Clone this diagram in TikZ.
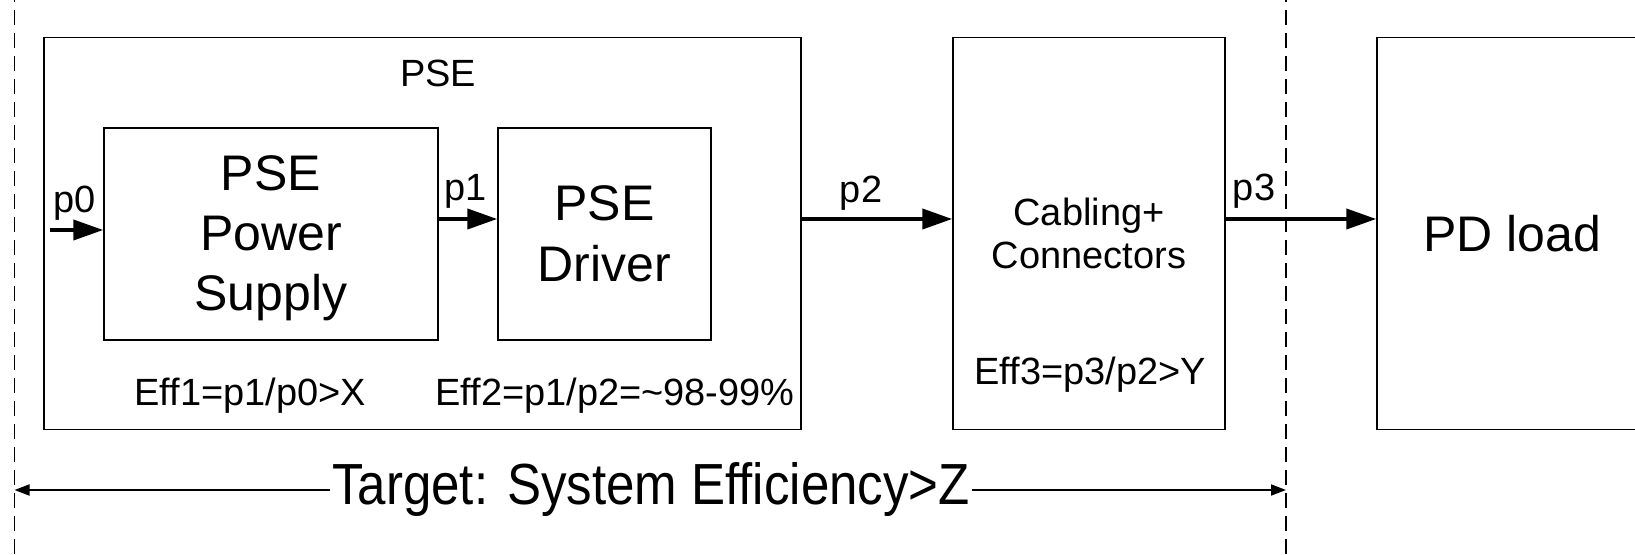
\documentclass[tikz,border=0pt]{standalone}
\usepackage{fontspec}
\setmainfont{Liberation Sans}
\usetikzlibrary{arrows.meta}
\tikzset{
  blk/.style={draw,line width=0.85pt,inner sep=0pt},
  big/.style={font=\fontsize{28.45}{34.1}\selectfont,align=center},
  mid/.style={font=\fontsize{21.6}{24.5}\selectfont,align=center},
  pwr/.style={line width=2.3pt,-{Triangle[length=0.6cm,width=0.4cm]}},
  span/.style={line width=1.1pt,-{Triangle[length=0.3cm,width=0.22cm]}},
  bound/.style={line width=0.6pt,dash pattern=on 0.3cm off 0.16cm}
}
\begin{document}
\begin{tikzpicture}
\useasboundingbox (0,0) rectangle (32.7,11.08);
\clip (0,0) rectangle (32.7,11.08);
\draw[bound] (0.29,0) -- (0.29,11.08);
\draw[bound] (25.72,0) -- (25.72,11.08);

\node[blk,minimum width=15.14cm,minimum height=7.84cm] (pse) at (8.45,6.41) {};
\node[mid] (psetitle) at (8.76,9.62) {PSE};
\node[blk,big,minimum width=6.68cm,minimum height=4.24cm] (ps) at (5.42,6.40) {\rule{0pt}{25pt}PSE\\Power\\Supply};
\node[blk,big,minimum width=4.26cm,minimum height=4.24cm,font=\fontsize{28.45}{35}\selectfont] (drv) at (12.09,6.40) {PSE\\Driver};
\node[mid] (eff1) at (5.0,3.16) {Eff1=p1/p0>X};
\node[mid] (eff2) at (12.3,3.16) {Eff2=p1/p2=\char`\~98-99\%};

\node[blk,mid,minimum width=5.44cm,minimum height=7.84cm] (cab) at (21.78,6.41) {Cabling+\\Connectors};
\node[mid] (eff3) at (21.8,3.58) {Eff3=p3/p2>Y};

\node[blk,big,minimum width=5.4cm,minimum height=7.84cm] (pd) at (30.24,6.41) {PD load};

\coordinate (src) at (1.0,6.48);
\coordinate (lvl) at (0,6.70);
\draw[pwr] (src) -- (src -| ps.west);
\draw[pwr] (ps.east |- lvl) -- (drv.west |- lvl);
\draw[pwr] (pse.east |- lvl) -- (cab.west |- lvl);
\draw[pwr] (cab.east |- lvl) -- (pd.west |- lvl);
\node[mid] (lp0) at (1.5,7.02) {p0};
\node[mid] (lp1) at (9.32,7.26) {p1};
\node[mid] (lp2) at (17.22,7.22) {p2};
\node[mid] (lp3) at (25.08,7.26) {p3};

\node[font=\fontsize{33}{38}\selectfont,inner sep=1pt] (tgt) at (13.02,1.28) {\scalebox{0.88}[1]{Target: System Efficiency>Z}};
\coordinate (tl) at (0.29,1.28);
\coordinate (tr) at (25.72,1.28);
\draw[span] (tgt.west) -- (tl);
\draw[span] (tgt.east) -- (tr);
\end{tikzpicture}
\end{document}
